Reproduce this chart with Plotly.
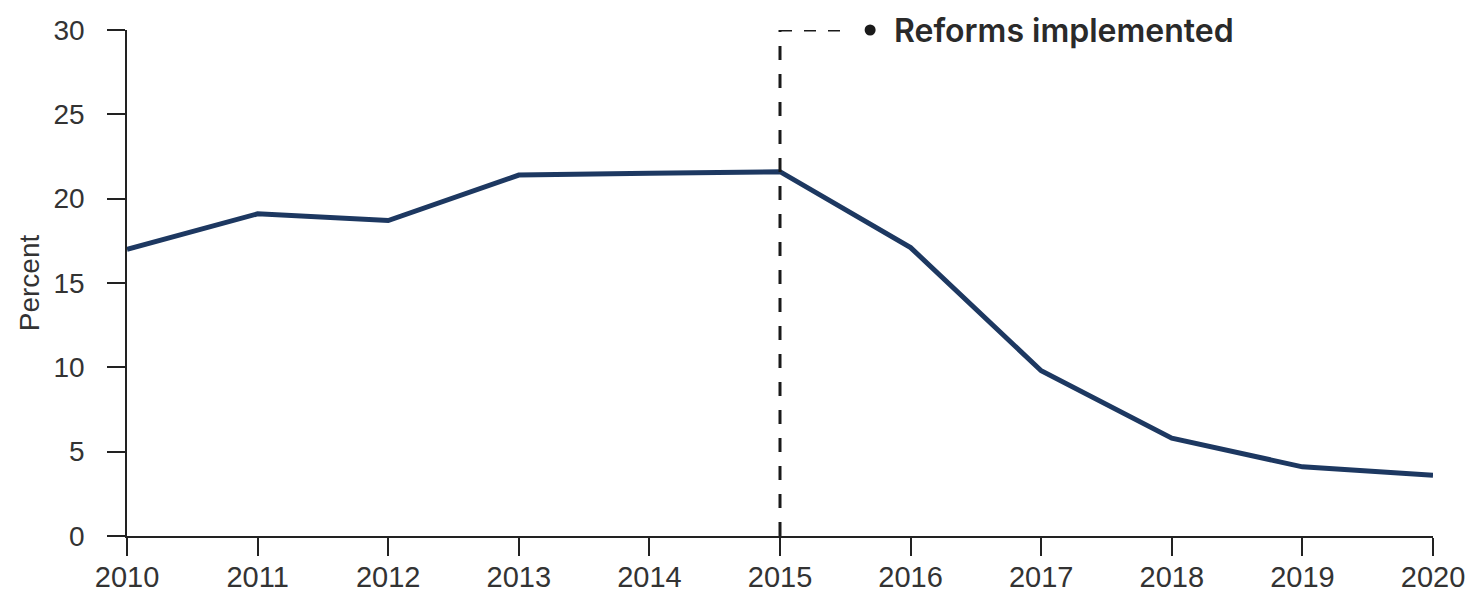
import plotly.graph_objects as go

years = [2010, 2011, 2012, 2013, 2014, 2015, 2016, 2017, 2018, 2019, 2020]
percent = [17.0, 19.1, 18.7, 21.4, 21.5, 21.6, 17.1, 9.8, 5.8, 4.1, 3.6]
y_ticks = [0, 5, 10, 15, 20, 25, 30]
reform_year = 2015
reform_label = "Reforms implemented"

fig = go.Figure()
fig.add_trace(go.Scatter(
    x=years, y=percent, mode="lines",
    line=dict(color="#1d3861", width=5),
    showlegend=False, hoverinfo="skip",
))

# dashed reform marker
fig.add_shape(type="line", xref="x", yref="y", x0=reform_year, x1=reform_year, y0=0, y1=30,
              line=dict(color="#1a1a1a", width=3, dash="14px,14px"))
fig.add_shape(type="line", xref="x", yref="y", x0=reform_year, x1=reform_year + 0.55, y0=30, y1=30,
              line=dict(color="#1a1a1a", width=3, dash="12px,12px"))
fig.add_trace(go.Scatter(
    x=[reform_year + 0.69], y=[30], mode="markers",
    marker=dict(color="#1a1a1a", size=11),
    showlegend=False, hoverinfo="skip", cliponaxis=False,
))
fig.add_annotation(x=reform_year + 0.86, y=30, xref="x", yref="y", text=reform_label,
                   showarrow=False, xanchor="left", yanchor="middle",
                   font=dict(family="Inter", size=32, color="#2a2a2a", weight=600))

fig.update_layout(
    width=1472, height=593,
    margin=dict(l=127, r=39, t=30, b=57),
    plot_bgcolor="white", paper_bgcolor="white",
    font=dict(family="Liberation Sans, Arial", size=28, color="#333333"),
)
fig.update_xaxes(
    range=[2010, 2020], tickvals=years, ticktext=[str(y) for y in years],
    showline=True, linecolor="#222222", linewidth=1.5,
    ticks="outside", ticklen=18, tickwidth=1.5, tickcolor="#222222",
    showgrid=False, zeroline=False, automargin=False,
    tickfont=dict(size=29, color="#333333"), ticklabelstandoff=-4,
)
fig.update_yaxes(
    range=[0, 30], tickvals=y_ticks,
    showline=True, linecolor="#222222", linewidth=1.5,
    ticks="outside", ticklen=18, tickwidth=1.5, tickcolor="#222222",
    showgrid=False, zeroline=False, automargin=False,
    tickfont=dict(size=28, color="#333333"), ticklabelstandoff=17,
    title=dict(text="Percent", font=dict(size=28, color="#333333"), standoff=6),
)

fig.write_html("out.html", config={"displayModeBar": False},
               post_script="document.body.style.margin='0';")
